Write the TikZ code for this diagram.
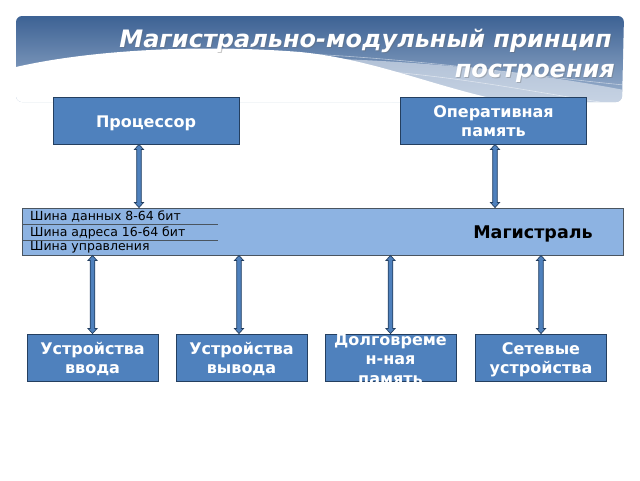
\documentclass[tikz,border=0pt]{standalone}
\usepackage{fontspec}
\setmainfont{DejaVu Sans}
\usetikzlibrary{calc}
\definecolor{boxblue}{HTML}{4F81BD}
\definecolor{boxedge}{HTML}{243F60}
\definecolor{busblue}{HTML}{8DB3E2}
\definecolor{busedge}{HTML}{4A5560}
\definecolor{bantop}{HTML}{3D6294}
\definecolor{banbot}{HTML}{9DB3CF}
\newcommand\topstrut{\rule{0pt}{18pt}}
\newcommand\botstrut{\rule[-5pt]{0pt}{0pt}}
\tikzset{
  unit/.style={draw=boxedge, line width=0.9pt, fill=boxblue, text=white,
    font=\bfseries\fontsize{16}{19}\selectfont, align=center, inner sep=0pt},
  bigunit/.style={unit, minimum width=186pt, minimum height=47pt},
  smallunit/.style={unit, minimum width=131pt, minimum height=47pt},
  busbox/.style={draw=busedge, line width=0.9pt, fill=busblue, minimum width=601pt, minimum height=47pt, inner sep=0pt},
  bustext/.style={font=\fontsize{12.5}{14}\selectfont, anchor=west, inner sep=0pt},
  blockarrow/.style={draw=boxedge, line width=0.7pt, fill=boxblue, line join=miter},
  titletext/.style={text=white, font=\bfseries\itshape\fontsize{24}{28}\selectfont, anchor=east, inner sep=0pt}
}
\newcommand\dblarrow[2]{%
  \draw[blockarrow] let \p1=(#1), \p2=(#2) in
    (\x1,\y1) -- (\x1+4.5pt,\y1-5pt) -- (\x1+2.3pt,\y1-5pt) -- (\x1+2.3pt,\y2+5pt)
    -- (\x1+4.5pt,\y2+5pt) -- (\x1,\y2) -- (\x1-4.5pt,\y2+5pt) -- (\x1-2.3pt,\y2+5pt)
    -- (\x1-2.3pt,\y1-5pt) -- (\x1-4.5pt,\y1-5pt) -- cycle;}
\begin{document}
\begin{tikzpicture}[x=1pt,y=-1pt]
\useasboundingbox[fill=white] (0,0) rectangle (640,480);
% banner
\begin{scope}
  \clip[rounded corners=6pt] (16,16) -- (624,16) -- (622,102) -- (16,102) -- cycle;
  \shade[top color=bantop, bottom color=banbot] (16,16) rectangle (624,102);
  \fill[white!70!banbot, opacity=0.6] (220,58) .. controls (380,55) and (520,70) .. (624,90) -- (624,104) -- (400,104) -- cycle;
  \fill[white] (16,67) .. controls (90,50) and (200,44) .. (300,52)
     .. controls (380,60) and (440,90) .. (520,104) -- (16,104) -- cycle;
  \draw[white, opacity=0.5, line width=0.6pt] (250,52) .. controls (400,55) and (520,75) .. (624,85);
  \draw[white, opacity=0.5, line width=0.6pt] (300,68) .. controls (420,68) and (520,90) .. (600,102);
\end{scope}
\node[titletext, text=black!60, opacity=0.35] at (613,42) {Магистрально-модульный принцип};
\node[titletext] (t1) at (612,41) {Магистрально-модульный принцип};
\node[titletext, text=black!60, opacity=0.35] at (616,74) {построения};
\node[titletext] (t2) at (615,73) {построения};
% top units
\node[bigunit] (proc) at (146,120.5) {\topstrut Процессор\botstrut};
\node[bigunit] (ram) at (493.5,120.5) {\topstrut Оперативная\\память\botstrut};
% bus
\node[busbox] (bus) at (322.5,231.5) {};
\coordinate (l1a) at (22,224); \coordinate (l1b) at (218,224);
\coordinate (l2a) at (22,240); \coordinate (l2b) at (218,240);
\draw[busedge, line width=0.9pt] (l1a) -- (l1b) (l2a) -- (l2b);
\node[bustext] (b1) at (30,216.5) {Шина данных 8-64 бит};
\node[bustext] (b2) at (30,232.5) {Шина адреса 16-64 бит};
\node[bustext] (b3) at (30,247.5) {Шина управления};
\node[font=\bfseries\fontsize{17.5}{20}\selectfont, inner sep=0pt] (mag) at (533,234) {Магистраль};
% bottom units
\node[smallunit] (in) at (92.5,357.5) {\topstrut Устройства\\ввода\botstrut};
\node[smallunit] (out) at (241.5,357.5) {\topstrut Устройства\\вывода\botstrut};
\begin{scope}
  \clip (300,320) rectangle (470,382.5);
  \node[smallunit] (long) at (390.5,357.5) {};
  \node[text=white, font=\bfseries\fontsize{16}{19.5}\selectfont, align=center, inner sep=0pt] (longt) at (390.5,358) {\topstrut Долговреме\\н-ная\\память\botstrut};
\end{scope}
\node[smallunit] (net) at (541,357.5) {\topstrut Сетевые\\устройства\botstrut};
% arrows
\dblarrow{$(proc.south)+(-7,0)$}{$(proc.south |- bus.north)+(-7,0)$}
\dblarrow{$(ram.south)+(1.5,0)$}{$(ram.south |- bus.north)+(1.5,0)$}
\dblarrow{in.north |- bus.south}{in.north}
\dblarrow{$(out.north |- bus.south)+(-2.5,0)$}{$(out.north)+(-2.5,0)$}
\dblarrow{long.north |- bus.south}{long.north}
\dblarrow{net.north |- bus.south}{net.north}
\end{tikzpicture}
\end{document}
